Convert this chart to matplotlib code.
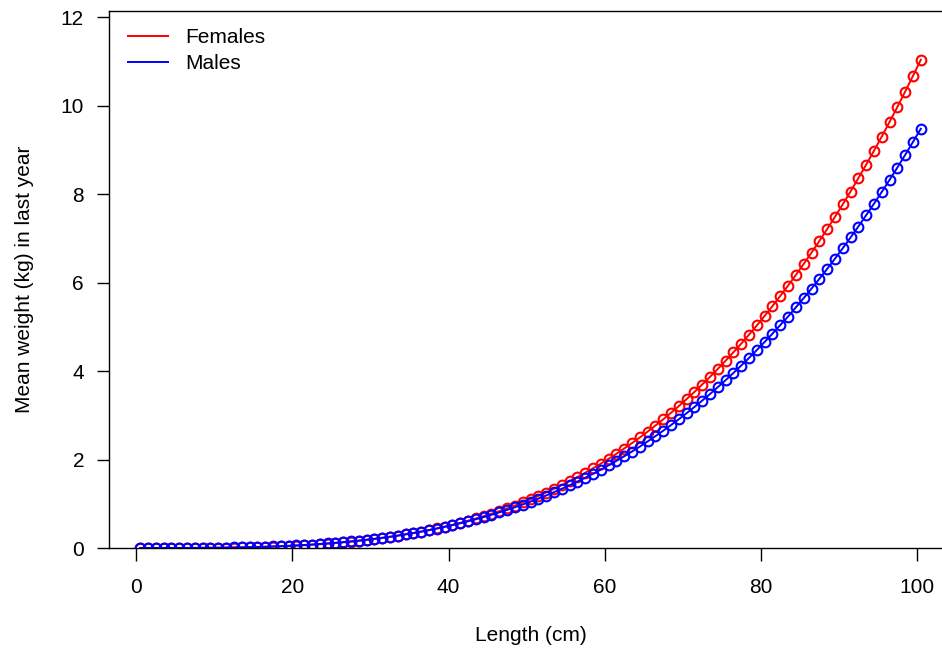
import numpy as np
import matplotlib
matplotlib.use("Agg")
import matplotlib.pyplot as plt

plt.rcParams['font.family'] = ['Liberation Sans', 'DejaVu Sans']

# length bins (cm), mid points
lengths = np.arange(0.5, 100.6, 1.0)

females = [0.000, 0.000, 0.000, 0.000, 0.000, 0.001, 0.001, 0.002, 0.003, 0.004,
           0.006, 0.008, 0.010, 0.013, 0.017, 0.021, 0.026, 0.032, 0.038, 0.045,
           0.054, 0.063, 0.073, 0.085, 0.098, 0.112, 0.127, 0.144, 0.162, 0.182,
           0.203, 0.227, 0.252, 0.278, 0.307, 0.338, 0.371, 0.406, 0.444, 0.483,
           0.526, 0.570, 0.618, 0.668, 0.721, 0.776, 0.835, 0.897, 0.961, 1.030,
           1.101, 1.176, 1.254, 1.336, 1.421, 1.510, 1.604, 1.701, 1.802, 1.907,
           2.017, 2.130, 2.249, 2.371, 2.499, 2.631, 2.768, 2.910, 3.057, 3.209,
           3.366, 3.529, 3.697, 3.871, 4.050, 4.235, 4.426, 4.622, 4.825, 5.034,
           5.250, 5.471, 5.700, 5.934, 6.176, 6.424, 6.679, 6.941, 7.211, 7.487,
           7.771, 8.062, 8.362, 8.669, 8.983, 9.305, 9.636, 9.974, 10.321, 10.676,
           11.040]

males = [0.000, 0.000, 0.000, 0.000, 0.000, 0.001, 0.001, 0.002, 0.004, 0.005,
         0.007, 0.009, 0.012, 0.015, 0.019, 0.024, 0.029, 0.035, 0.042, 0.050,
         0.059, 0.068, 0.079, 0.091, 0.104, 0.118, 0.133, 0.150, 0.168, 0.188,
         0.209, 0.231, 0.256, 0.282, 0.310, 0.339, 0.371, 0.404, 0.440, 0.478,
         0.517, 0.559, 0.604, 0.650, 0.699, 0.751, 0.805, 0.862, 0.921, 0.983,
         1.048, 1.116, 1.187, 1.261, 1.338, 1.418, 1.501, 1.588, 1.678, 1.771,
         1.869, 1.969, 2.073, 2.181, 2.293, 2.409, 2.529, 2.652, 2.780, 2.912,
         3.049, 3.189, 3.334, 3.483, 3.638, 3.796, 3.959, 4.127, 4.300, 4.478,
         4.660, 4.848, 5.042, 5.235, 5.443, 5.652, 5.866, 6.085, 6.311, 6.542,
         6.779, 7.022, 7.270, 7.525, 7.785, 8.052, 8.324, 8.604, 8.890, 9.182,
         9.480]

xticks = [0, 20, 40, 60, 80, 100]
yticks = [0, 2, 4, 6, 8, 10, 12]

W, H = 942, 654
fig = plt.figure(figsize=(W / 100, H / 100), dpi=100)
# plot region runs past the right edge like the original crop
left, right, top, bottom = 109, 952, 11, 548
ax = fig.add_axes([left / W, 1 - bottom / H, (right - left) / W, (bottom - top) / H])

ax.plot(lengths, females, color='red', lw=1.4, marker='o', ms=7,
        mfc='none', mec='red', mew=1.5, label='Females')
ax.plot(lengths, males, color='blue', lw=1.4, marker='o', ms=7,
        mfc='none', mec='blue', mew=1.5, label='Males')

xr = lengths.max() - lengths.min()
ax.set_xlim(lengths.min() - 0.04 * xr, lengths.max() + 0.04 * xr)
ax.set_ylim(0, max(females) * 1.1)

ax.set_xticks(xticks)
ax.set_yticks(yticks)
ax.tick_params(direction='out', length=9, width=1, labelsize=15, color='black')
ax.tick_params(axis='x', pad=12.5)
ax.tick_params(axis='y', pad=9)
for s in ax.spines.values():
    s.set_linewidth(1)
    s.set_color('black')

ax.set_xlabel('Length (cm)', fontsize=15, labelpad=21)
ax.set_ylabel('Mean weight (kg) in last year', fontsize=15, labelpad=19.5)

leg = ax.legend(loc='upper left', bbox_to_anchor=(19 / (right - left), 1 - 17 / (bottom - top)),
                frameon=False, fontsize=15, handlelength=1.9, handletextpad=0.85,
                labelspacing=0.33, borderpad=0, borderaxespad=0)
for h in leg.legend_handles:
    h.set_marker('')

fig.savefig('out.png', dpi=100)
